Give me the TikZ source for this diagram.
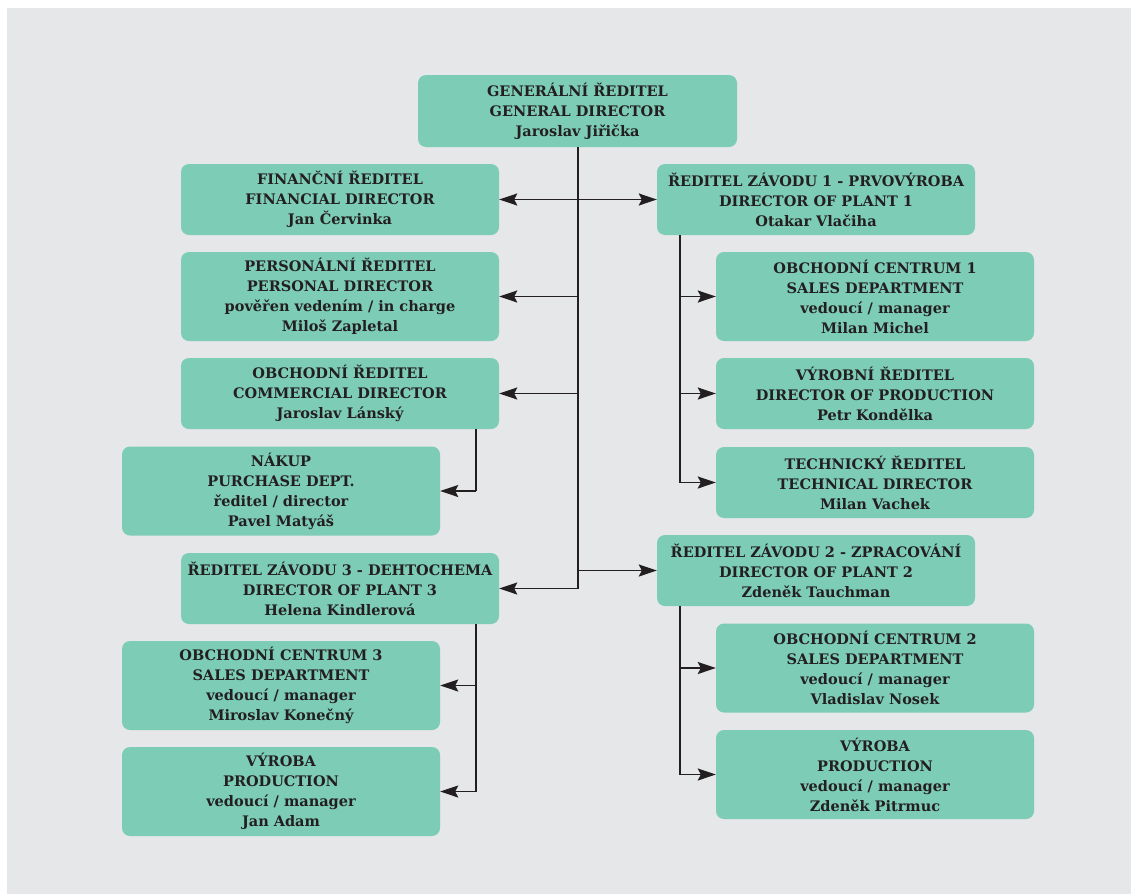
\documentclass[tikz,border=0pt]{standalone}
\usepackage{fontspec}
\setmainfont{DejaVu Serif}
\usetikzlibrary{arrows.meta}
\definecolor{bg}{RGB}{230,231,232}
\definecolor{boxfill}{RGB}{125,204,182}
\definecolor{ink}{RGB}{35,31,32}
\tikzset{
  box/.style={fill=boxfill, rounded corners=8pt, minimum width=318pt, inner sep=0pt,
    align=center, font=\fontsize{14.5}{20}\selectfont\bfseries, text=ink},
  lo/.style={box, minimum height=71pt},
  hi/.style={box, minimum height=89pt},
  conn/.style={draw=ink, line width=1.8pt},
  arr/.style={conn, -{Stealth[length=18pt, width=12pt, inset=3pt]}},
}
\begin{document}
\begin{tikzpicture}[x=1pt, y=-1pt]
\useasboundingbox (0,0) rectangle (1131,894);
\fill[white] (0,0) rectangle (1131,894);
\fill[bg] (7,8) rectangle (1131,894);

\node[box, minimum width=319pt, minimum height=72pt] (gd) at (577.5,111) {GENERÁLNÍ ŘEDITEL\\GENERAL DIRECTOR\\Jaroslav Jiřička};
\node[lo] (fin) at (340,199.5) {FINANČNÍ ŘEDITEL\\FINANCIAL DIRECTOR\\Jan Červinka};
\node[lo] (p1) at (816,199.5) {ŘEDITEL ZÁVODU 1 - PRVOVÝROBA\\DIRECTOR OF PLANT 1\\Otakar Vlačiha};
\node[hi] (pers) at (340,296.5) {PERSONÁLNÍ ŘEDITEL\\PERSONAL DIRECTOR\\pověřen vedením / in charge\\Miloš Zapletal};
\node[hi] (s1) at (875,296.5) {OBCHODNÍ CENTRUM 1\\SALES DEPARTMENT\\vedoucí / manager\\Milan Michel};
\node[lo] (com) at (340,393.5) {OBCHODNÍ ŘEDITEL\\COMMERCIAL DIRECTOR\\Jaroslav Lánský};
\node[lo] (prod) at (875,393.5) {VÝROBNÍ ŘEDITEL\\DIRECTOR OF PRODUCTION\\Petr Kondělka};
\node[hi] (pur) at (281,491) {NÁKUP\\PURCHASE DEPT.\\ředitel / director\\Pavel Matyáš};
\node[lo] (tech) at (875,482.5) {TECHNICKÝ ŘEDITEL\\TECHNICAL DIRECTOR\\Milan Vachek};
\node[lo] (p3) at (340,588.5) {ŘEDITEL ZÁVODU 3 - DEHTOCHEMA\\DIRECTOR OF PLANT 3\\Helena Kindlerová};
\node[lo] (p2) at (816,570.5) {ŘEDITEL ZÁVODU 2 - ZPRACOVÁNÍ\\DIRECTOR OF PLANT 2\\Zdeněk Tauchman};
\node[hi] (s3) at (281,685.5) {OBCHODNÍ CENTRUM 3\\SALES DEPARTMENT\\vedoucí / manager\\Miroslav Konečný};
\node[hi] (s2) at (875,668) {OBCHODNÍ CENTRUM 2\\SALES DEPARTMENT\\vedoucí / manager\\Vladislav Nosek};
\node[hi] (v3) at (281,791.5) {VÝROBA\\PRODUCTION\\vedoucí / manager\\Jan Adam};
\node[hi] (v2) at (875,774.5) {VÝROBA\\PRODUCTION\\vedoucí / manager\\Zdeněk Pitrmuc};

% trunk
\coordinate (t) at ([xshift=0.5pt]gd.south);
\draw[conn] (t) -- (t |- p3.east);
\draw[arr] (t |- fin.east) -- (fin.east);
\draw[arr] (t |- p1.west) -- (p1.west);
\draw[arr] (t |- pers.east) -- (pers.east);
\draw[arr] (t |- com.east) -- (com.east);
\draw[arr] (t |- p2.west) -- (p2.west);
\draw[arr] (t |- p3.east) -- (p3.east);

% plant 1 branch
\coordinate (b1) at ([xshift=23pt]p1.south west);
\draw[conn] (b1) -- (b1 |- tech.west);
\draw[arr] (b1 |- s1.west) -- (s1.west);
\draw[arr] (b1 |- prod.west) -- (prod.west);
\draw[arr] (b1 |- tech.west) -- (tech.west);

% commercial branch
\coordinate (bc) at ([xshift=-23pt]com.south east);
\draw[conn] (bc) -- (bc |- pur.east);
\draw[arr] (bc |- pur.east) -- (pur.east);

% plant 3 branch
\coordinate (b3) at ([xshift=-23pt]p3.south east);
\draw[conn] (b3) -- (b3 |- v3.east);
\draw[arr] (b3 |- s3.east) -- (s3.east);
\draw[arr] (b3 |- v3.east) -- (v3.east);

% plant 2 branch
\coordinate (b2) at ([xshift=23pt]p2.south west);
\draw[conn] (b2) -- (b2 |- v2.west);
\draw[arr] (b2 |- s2.west) -- (s2.west);
\draw[arr] (b2 |- v2.west) -- (v2.west);
\end{tikzpicture}
\end{document}
